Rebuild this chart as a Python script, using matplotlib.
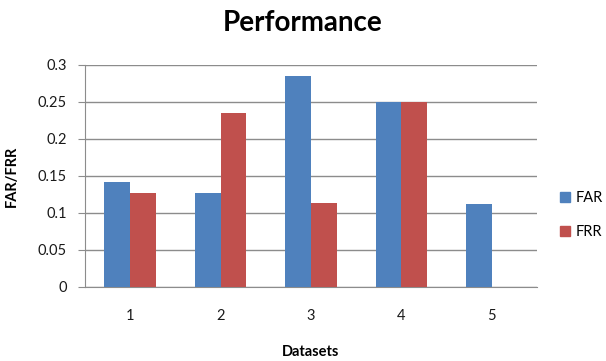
import matplotlib
matplotlib.use("Agg")
import matplotlib.pyplot as plt
from matplotlib.lines import Line2D
import numpy as np

categories = ["1", "2", "3", "4", "5"]
far_values = [0.142, 0.127, 0.285, 0.25, 0.112]
frr_values = [0.127, 0.235, 0.113, 0.25, 0.0]
y_ticks = [0, 0.05, 0.1, 0.15, 0.2, 0.25, 0.3]
y_tick_labels = ["0", "0.05", "0.1", "0.15", "0.2", "0.25", "0.3"]

plt.rcParams["font.family"] = ["Lato", "DejaVu Sans"]

BLUE = "#4F81BD"
RED = "#C0504D"
GRID = "#8C8C8C"

fig = plt.figure(figsize=(6.06, 3.61), dpi=100)
ax = fig.add_axes([0.1403, 0.205, 0.7457, 0.615])

x = np.arange(1, len(categories) + 1)
w = 1 / 3.5
ax.bar(x - w / 2, far_values, width=w, color=BLUE, label="FAR", zorder=3)
ax.bar(x + w / 2, frr_values, width=w, color=RED, label="FRR", zorder=3)

ax.set_xlim(0.5, 5.5)
ax.set_ylim(0, 0.3)
ax.set_yticks(y_ticks)
ax.set_yticklabels(y_tick_labels)
ax.set_xticks(x)
ax.set_xticklabels(categories)

ax.yaxis.grid(True, color=GRID, linewidth=1.0, zorder=0)
ax.set_axisbelow(True)
for side in ("top", "right"):
    ax.spines[side].set_visible(False)
ax.spines["left"].set_color(GRID)
ax.spines["bottom"].set_color(GRID)
ax.tick_params(axis="y", length=5, color=GRID, labelsize=10.5, pad=8, labelcolor="#1a1a1a")
ax.tick_params(axis="x", length=0, labelsize=10.5, pad=16, labelcolor="#1a1a1a")

ax.set_ylabel("FAR/FRR", fontsize=10.5, fontweight="bold", labelpad=14)
ax.set_xlabel("Datasets", fontsize=10.5, fontweight="bold", labelpad=16)
fig.text(0.5, 0.935, "Performance", ha="center", va="center", fontsize=20, fontweight="bold")

handles = [
    Line2D([], [], marker="s", linestyle="none", markersize=7, color=BLUE),
    Line2D([], [], marker="s", linestyle="none", markersize=7, color=RED),
]
fig.legend(handles, ["FAR", "FRR"], loc="center left", bbox_to_anchor=(0.925, 0.404),
           frameon=False, fontsize=10.5, handlelength=0.6, handletextpad=0.4,
           labelspacing=1.35, borderaxespad=0, borderpad=0)

fig.savefig("out.png", dpi=100)
